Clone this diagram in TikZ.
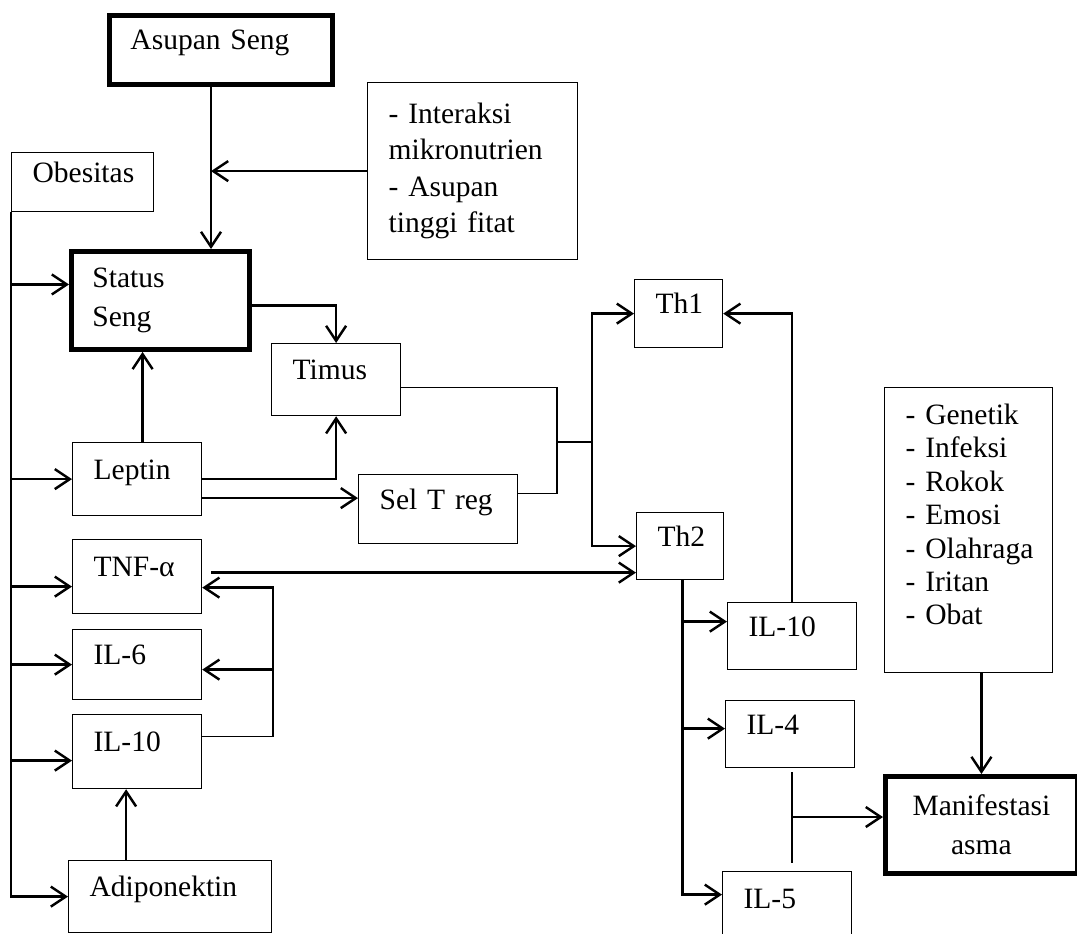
\documentclass[tikz,border=0pt]{standalone}
\usepackage{fontspec}
\setmainfont{Liberation Serif}
\usetikzlibrary{arrows.meta}
\tikzset{
    box/.style 2 args={draw,line width=0.7pt,anchor=north west,align=left,inner xsep=0.42cm,inner ysep=0pt,
        text width=#1,minimum height=#2,text height=0.4cm,text depth=0.4cm},
    listbox/.style 2 args={draw,line width=0.7pt,anchor=north west,align=left,inner xsep=0.42cm,inner ysep=0pt,
        text width=#1,minimum height=#2},
    bold/.style={line width=2.8pt},
    thinline/.style={line width=0.8pt}
}
\begin{document}
\begin{tikzpicture}[x=0.02cm,y=-0.02cm,line width=1.4pt,>={Straight Barb[length=0.3cm,width=0.4cm]},
                    font=\fontsize{16.8}{20}\selectfont]
                        \clip (0,0) rectangle (1077,933);
                        \node[box={3.62cm}{1.38cm},bold] (asupan) at (107,13) {Asupan Seng};
                        \node[listbox={3.36cm}{3.54cm},font=\fontsize{16.8}{20.8}\selectfont] (interaksi) at (367,82)
                            {\mbox{- Interaksi}\\mikronutrien\\\mbox{- Asupan}\\tinggi fitat};
                        \node[box={2.0cm}{1.18cm}] (obesitas) at (11,152) {Obesitas};
                        \node[listbox={2.72cm}{1.96cm},bold,font=\fontsize{16.8}{22.5}\selectfont] (status) at (69,249) {Status\\Seng};
                        \node[box={1.74cm}{1.44cm}] (timus) at (271,343) {Timus};
                        \node[box={1.74cm}{1.46cm}] (leptin) at (72,442) {Leptin};
                        \node[box={2.34cm}{1.38cm}] (selTreg) at (358,474) {Sel T reg};
                        \node[box={1.74cm}{1.48cm}] (tnf) at (72,539) {TNF-α};
                        \node[box={1.74cm}{1.40cm}] (il6) at (72,629) {IL-6};
                        \node[box={1.74cm}{1.48cm}] (il10left) at (72,714) {IL-10};
                        \node[box={3.22cm}{1.44cm}] (adipo) at (68,860) {Adiponektin};
                        \node[box={0.92cm}{1.36cm}] (th1) at (634,279) {Th1};
                        \node[box={0.90cm}{1.34cm}] (th2) at (636,512) {Th2};
                        \node[box={1.74cm}{1.34cm}] (il10right) at (727,602) {IL-10};
                        \node[box={1.74cm}{1.34cm}] (il4) at (725,700) {IL-4};
                        \node[box={1.74cm}{1.46cm}] (il5) at (722,871) {IL-5};
                        \node[listbox={2.52cm}{5.7cm},text depth=4.63cm,font=\fontsize{16.8}{19}\selectfont] (factors) at (884,387)
                            {\mbox{- Genetik}\\\mbox{- Infeksi}\\\mbox{- Rokok}\\\mbox{- Emosi}\\\mbox{- Olahraga}\\\mbox{- Iritan}\\\mbox{- Obat}};
                        \node[listbox={3.0cm}{1.94cm},bold,align=center,font=\fontsize{16.8}{22}\selectfont] (manifest) at (883,774)
                            {Manifestasi\\asma};
                        \coordinate (zn) at (211,168);
                        \draw[->] (asupan.south -| zn) -- (status.north -| zn);
                        \draw[->] (interaksi.west) -- (interaksi.west -| zn);
                        \draw[->] (obesitas.south west) |- (adipo.west);
                        \draw[->] ([yshift=0.32cm]status.west -| obesitas.west) -- ([yshift=0.32cm]status.west);
                        \draw[->] (leptin.west -| obesitas.west) -- (leptin.west);
                        \draw[->] ([yshift=-0.2cm]tnf.west -| obesitas.west) -- ([yshift=-0.2cm]tnf.west);
                        \draw[->] (il6.west -| obesitas.west) -- (il6.west);
                        \draw[->] ([yshift=-0.18cm]il10left.west -| obesitas.west) -- ([yshift=-0.18cm]il10left.west);
                        \draw[->] ([xshift=0.11cm]leptin.north) -- ([xshift=0.11cm]leptin.north |- status.south);
                        \draw[->] ([yshift=-0.1cm]status.east) -| (timus.north);
                        \draw[->] (leptin.east) -| (timus.south);
                        \draw[->] ([yshift=-0.38cm]leptin.east) -- ([yshift=-0.38cm]leptin.east -| selTreg.west);
                        \coordinate (jT) at (557,442);
                        \coordinate (jH) at (592,442);
                        \draw[thinline] ([yshift=-0.16cm]timus.east) -| (jT) |- ([yshift=0.31cm]selTreg.east);
                        \draw[thinline] (jT) -- (jH);
                        \draw[->] (jH) |- (th1.west);
                        \draw[->] (jH) |- (th2.west);
                        \draw[->] ([xshift=0.18cm,yshift=0.08cm]tnf.east) -- ([yshift=0.08cm]tnf.east -| th2.west);
                        \coordinate (cyt) at (273,650);
                        \draw[thinline] ([yshift=0.3cm]il10left.east) -- ([yshift=0.3cm]il10left.east -| cyt);
                        \draw[->] ([yshift=0.3cm]il10left.east -| cyt) |- ([yshift=-0.22cm]tnf.east);
                        \draw[->] ([yshift=-0.1cm]il6.east -| cyt) -- ([yshift=-0.1cm]il6.east);
                        \draw[->] ([xshift=-0.22cm]il10left.south |- adipo.north) -- ([xshift=-0.22cm]il10left.south);
                        \coordinate (tb) at ([xshift=0.05cm]th2.south);
                        \draw[->] (tb) |- ([yshift=0.27cm]il5.west);
                        \draw[->] ([yshift=0.29cm]il10right.west -| tb) -- ([yshift=0.29cm]il10right.west);
                        \draw[->] ([yshift=0.11cm]il4.west -| tb) -- ([yshift=0.11cm]il4.west);
                        \draw[->] (il10right.north) |- (th1.east);
                        \coordinate (m) at (792,817);
                        \draw[thinline] ([yshift=-0.08cm]il4.south -| m) -- ([yshift=0.16cm]il5.north -| m);
                        \draw[->] (m) -- (m -| manifest.west);
                        \draw[->] (factors.south -| manifest.north) -- (manifest.north);
\end{tikzpicture}
\end{document}
